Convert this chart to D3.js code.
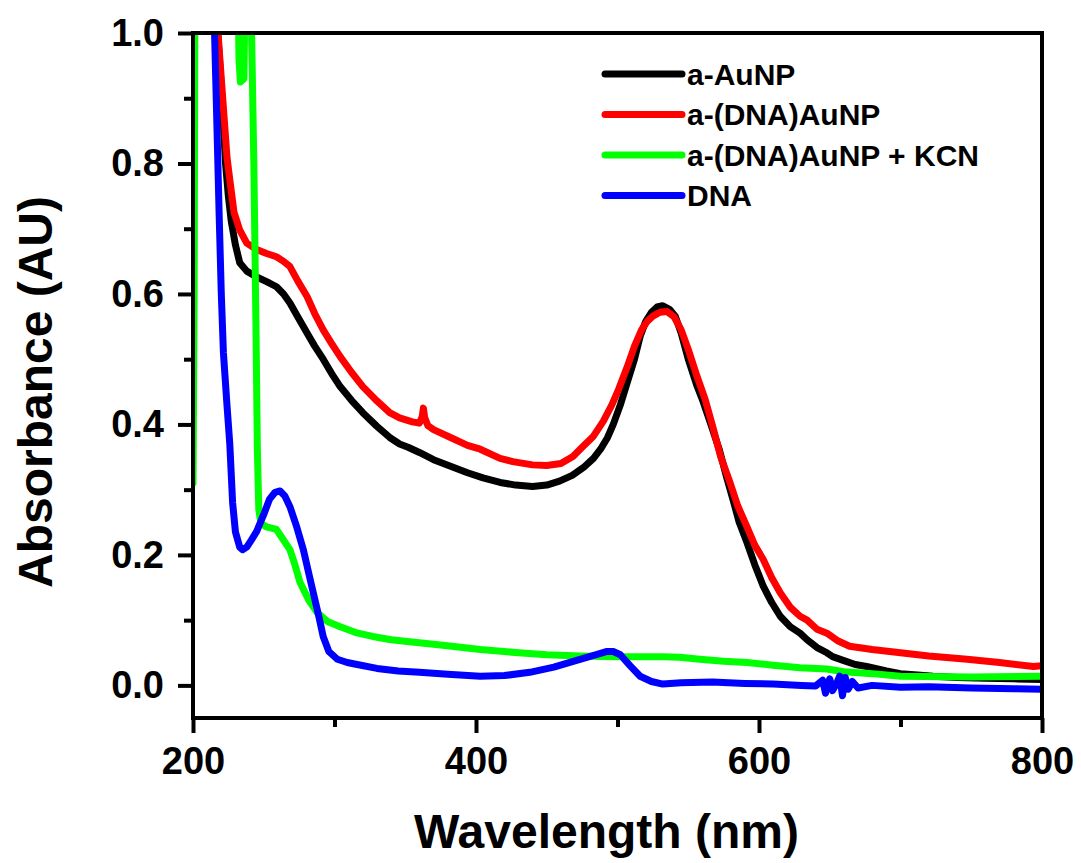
<!DOCTYPE html>
<html>
<head>
<meta charset="utf-8">
<script src="https://cdn.jsdelivr.net/npm/d3@7"></script>
<style>
  body { margin: 0; background: #fff; }
  text { font-family: "Liberation Sans", Arial, sans-serif; font-weight: bold; }
</style>
</head>
<body>
<svg id="chart" width="1081" height="863"></svg>
<script>
// wavelength (nm), absorbance (AU)
var aAuNP = [
  [212,1.2],[216,1.05],[219,0.95],[221,0.88],[223,0.8],[225,0.75],[227,0.712],[230,0.675],[233,0.648],
  [238,0.635],[245,0.626],[252,0.619],[259,0.611],[264,0.6],[268.5,0.586],[274,0.565],[280.6,0.54],
  [286,0.52],[292,0.5],[298,0.478],[304,0.458],[312,0.437],[320,0.418],[330,0.397],[339,0.38],
  [346,0.37],[352,0.365],[360,0.357],[370,0.346],[382,0.336],[394,0.326],[405,0.318],[417,0.311],
  [428,0.307],[440,0.305],[450,0.307],[459,0.313],[468,0.322],[476,0.334],[483,0.348],[488,0.362],
  [493,0.38],[497,0.4],[502,0.43],[507,0.465],[512,0.5],[516,0.535],[520,0.558],[524,0.572],
  [528,0.58],[532,0.582],[537,0.576],[541,0.565],[545,0.54],[550,0.5],[556,0.46],[560,0.438],[566,0.4],
  [572,0.361],[577,0.32],[581.6,0.285],[586,0.25],[591.5,0.219],[597,0.185],[603,0.152],[609,0.127],
  [615,0.106],[622,0.09],[629,0.08],[634,0.07],[641,0.058],[648,0.05],[652,0.044],[660,0.038],
  [668,0.032],[676,0.029],[690,0.022],[700,0.018],[712,0.016],[723,0.014],[740,0.012],[760,0.011],
  [780,0.01],[800,0.009]
];
var aDnaAuNP = [
  [212,1.2],[216,1.05],[219,0.96],[222,0.87],[224,0.81],[226,0.775],[229,0.725],[233,0.698],
  [238,0.678],[245,0.668],[252,0.662],[259,0.657],[264,0.65],[268.5,0.642],[274,0.62],[280.6,0.596],
  [286,0.57],[292,0.545],[298,0.524],[304,0.504],[312,0.48],[320,0.458],[330,0.436],[339,0.418],
  [346,0.41],[355,0.404],[360,0.402],[362,0.412],[362.8,0.425],[363.8,0.41],[366,0.398],[370,0.392],
  [382,0.38],[394,0.368],[403,0.362],[417,0.348],[426,0.343],[440,0.338],[450,0.337],[460,0.34],
  [468.5,0.351],[475,0.365],[483,0.382],[490,0.405],[496,0.43],[501,0.455],[507,0.489],[512,0.52],
  [517,0.545],[521,0.558],[525,0.566],[530,0.572],[535,0.573],[540,0.565],[545,0.545],[550,0.515],
  [556,0.475],[562,0.438],[567.5,0.395],[573,0.35],[579.5,0.311],[585,0.275],[591.5,0.243],[597,0.215],
  [603,0.193],[609,0.165],[615,0.142],[622,0.12],[629,0.106],[634,0.1],[641,0.086],[648,0.08],
  [656,0.068],[664,0.06],[680,0.055],[700,0.05],[720,0.045],[747,0.04],[770,0.035],[794,0.029],
  [800,0.03]
];
var aDnaAuNPKcn = [
  [200,0.31],[200.8,0.6],[201.5,1.2],[231,1.2],[232.5,0.96],[233.5,0.925],[236,0.93],[237.5,1.2],
  [239.5,1.2],[241,1.05],[243,0.8],[244.5,0.55],[245.5,0.36],[246.5,0.27],[248,0.248],[252,0.243],
  [259,0.239],[263,0.226],[268.5,0.208],[272,0.185],[275.6,0.158],[282,0.13],[287.6,0.112],
  [295,0.098],[304,0.09],[315,0.081],[327,0.075],[340,0.07],[353,0.067],[375,0.062],[403,0.055],
  [430,0.05],[450,0.047],[473.5,0.045],[500,0.044],[532,0.044],[544,0.043],[558,0.04],[575,0.037],
  [591.5,0.035],[610,0.031],[629,0.027],[648,0.025],[660,0.021],[680,0.018],[700,0.014],
  [750,0.013],[800,0.014]
];
var dna = [
  [212,1.2],[215,1.02],[217,0.85],[218.5,0.72],[220,0.6],[221.5,0.51],[224,0.43],[226,0.37],
  [228,0.28],[230,0.235],[233,0.212],[235,0.208],[238,0.212],[241,0.222],[245,0.236],[250,0.262],
  [254,0.285],[258,0.296],[261.5,0.298],[265,0.29],[268.5,0.274],[273,0.245],[278,0.208],[282,0.17],
  [285,0.142],[289,0.105],[292,0.075],[296,0.052],[302,0.04],[309,0.035],[316,0.032],[330,0.026],
  [345,0.022],[360,0.02],[380,0.017],[403,0.014],[420,0.015],[438,0.02],[455,0.028],[473.5,0.04],
  [485,0.047],[492.6,0.052],[497,0.052],[502,0.047],[509,0.03],[516,0.014],[524,0.006],[532,0.002],
  [545,0.004],[567,0.005],[590,0.003],[610,0.002],[630,0.0],[640,-0.001],[645,0.008],[647,-0.012],
  [650,0.01],[652,-0.008],[655,0.004],[657,0.014],[659,-0.016],[661,0.012],[663,-0.006],[666,0.006],
  [670,-0.004],[680,0.0],[700,-0.003],[720,-0.002],[750,-0.004],[780,-0.005],[800,-0.006]
];

var seriesNames = ["a-AuNP", "a-(DNA)AuNP", "a-(DNA)AuNP + KCN", "DNA"];
var seriesData = [aAuNP, aDnaAuNP, aDnaAuNPKcn, dna];
var seriesColors = ["#000000", "#ff0000", "#00ff00", "#0000ff"];

var xMajorTicks = [200, 400, 600, 800];
var xMinorTicks = [300, 500, 700];
var yMajorTicks = [0.0, 0.2, 0.4, 0.6, 0.8, 1.0];
var yMinorTicks = [0.1, 0.3, 0.5, 0.7, 0.9];

var svg = d3.select("#chart"),
    margin = {top: 33, right: 39, bottom: 145, left: 193},
    width = +svg.attr("width") - margin.left - margin.right,
    height = +svg.attr("height") - margin.top - margin.bottom,
    g = svg.append("g").attr("transform", "translate(" + margin.left + "," + margin.top + ")");

var x = d3.scaleLinear().domain([200, 800]).range([0, width]);
var y = d3.scaleLinear().domain([-0.05, 1.0]).range([height, 0]);

g.append("clipPath").attr("id", "plot-clip")
    .append("rect").attr("width", width).attr("height", height);

var line = d3.line()
    .x(function (d) { return x(d[0]); })
    .y(function (d) { return y(d[1]); });

g.append("g")
    .attr("clip-path", "url(#plot-clip)")
    .selectAll("path")
    .data(seriesData)
    .enter().append("path")
    .attr("d", line)
    .attr("fill", "none")
    .attr("stroke", function (d, i) { return seriesColors[i]; })
    .attr("stroke-width", 7)
    .attr("stroke-linejoin", "round")
    .attr("stroke-linecap", "round");

// axes
function styleAxis(sel) {
    sel.select(".domain").remove();
    sel.selectAll(".tick line").attr("stroke", "#000").attr("stroke-width", 4);
    sel.selectAll(".tick text").attr("fill", "#000").attr("font-size", 38);
}

g.append("g")
    .attr("transform", "translate(0," + height + ")")
    .call(d3.axisBottom(x).tickValues(xMajorTicks).tickSize(15).tickPadding(14).tickFormat(d3.format("d")))
    .call(styleAxis);
g.append("g")
    .attr("transform", "translate(0," + height + ")")
    .call(d3.axisBottom(x).tickValues(xMinorTicks).tickSize(9).tickFormat(""))
    .call(styleAxis);
g.append("g")
    .call(d3.axisLeft(y).tickValues(yMajorTicks).tickSize(15).tickPadding(14).tickFormat(d3.format(".1f")))
    .call(styleAxis);
g.append("g")
    .call(d3.axisLeft(y).tickValues(yMinorTicks).tickSize(9).tickFormat(""))
    .call(styleAxis);

g.append("rect")
    .attr("width", width)
    .attr("height", height)
    .attr("fill", "none")
    .attr("stroke", "#000")
    .attr("stroke-width", 4);

// axis titles
svg.append("text")
    .attr("x", margin.left + width / 2 - 11)
    .attr("y", 848)
    .attr("text-anchor", "middle")
    .attr("font-size", 48)
    .text("Wavelength (nm)");

svg.append("text")
    .attr("transform", "translate(52," + 392 + ") rotate(-90)")
    .attr("text-anchor", "middle")
    .attr("font-size", 48)
    .text("Absorbance (AU)");

// legend
var legend = svg.append("g")
    .selectAll("g")
    .data(seriesNames)
    .enter().append("g")
    .attr("transform", function (d, i) { return "translate(605," + (74 + i * 40.5) + ")"; });

legend.append("line")
    .attr("x1", 0).attr("x2", 77)
    .attr("stroke", function (d, i) { return seriesColors[i]; })
    .attr("stroke-width", 7)
    .attr("stroke-linecap", "round");

legend.append("text")
    .attr("x", 82)
    .attr("dy", "0.36em")
    .attr("font-size", 30)
    .text(function (d) { return d; });
</script>
</body>
</html>
